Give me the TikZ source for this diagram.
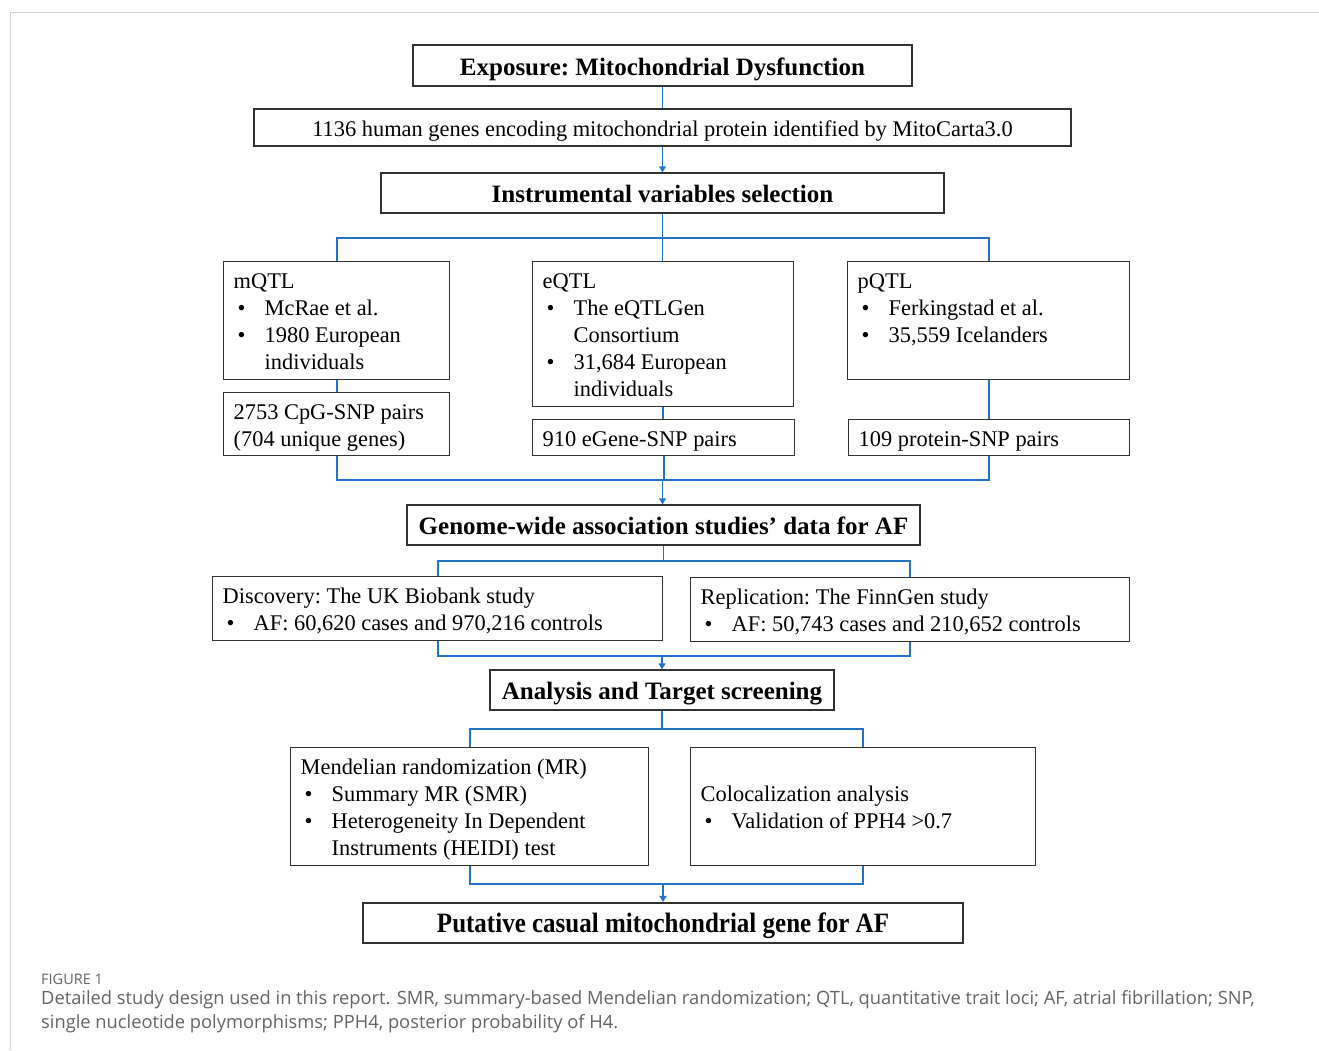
\documentclass[tikz,border=0pt]{standalone}
\usepackage{fontspec}
\setmainfont{Liberation Serif}
\newfontfamily\capfont{Open Sans}
\usetikzlibrary{arrows.meta,calc}
\definecolor{flowblue}{RGB}{36,114,200}
\definecolor{boxgray}{RGB}{50,50,50}
\definecolor{capgray}{RGB}{100,100,100}
\newcommand\bul[1]{\makebox[31pt][l]{\hspace{4pt}\textbullet}#1}
\newcommand\cont[1]{\makebox[31pt][l]{}#1}
\newcommand\topst{\rule{0pt}{1.0em}}
\newcommand\botst{\rule[-0.216em]{0pt}{0pt}}
\newcommand\fixsp{\frenchspacing\spaceskip=0.25em\relax\xspaceskip=0.25em\relax}
\begin{document}
\begin{tikzpicture}[x=1pt,y=-1pt,
  box/.style={draw=boxgray,line width=1.4pt,inner sep=0pt,
     execute at begin node=\fixsp\topst, execute at end node=\botst},
  titlebox/.style={box,font=\fontsize{25}{30}\selectfont\bfseries},
  plainbox/.style={box,font=\fontsize{22.4}{27}\selectfont},
  listbox/.style={box,anchor=north west,font=\fontsize{22.4}{27}\selectfont,
     align=left,inner xsep=10pt,inner ysep=0pt},
  bl/.style={draw=flowblue,line width=1.8pt},
  bla/.style={bl,-{Triangle[length=6pt,width=7pt]}}]
\useasboundingbox (0,0) rectangle (1319,1050);
\draw[gray!35,line width=1pt] (10,1050) -- (10,12) -- (1319,12);

% top chain
\node[titlebox,minimum width=499pt,minimum height=41pt] (b1) at (662.5,65.5)
  {Exposure: Mitochondrial Dysfunction};
\node[plainbox,minimum width=817pt,minimum height=37pt] (b2) at (662.5,127.5)
  {1136 human genes encoding mitochondrial protein identified by MitoCarta3.0};
\node[titlebox,minimum width=563pt,minimum height=40pt] (b3) at (662.5,193)
  {Instrumental variables selection};

% QTL boxes
\node[listbox,minimum width=226pt,minimum height=118pt,text width=206pt] (mq) at (223,261)
  {mQTL\\\bul{McRae et al.}\\\bul{1980 European}\\\cont{individuals}};
\node[listbox,minimum width=226pt,minimum height=63pt,text width=206pt] (cpg) at (223,392)
  {2753 CpG-SNP pairs\\(704 unique genes)};
\node[listbox,minimum width=261pt,minimum height=145pt,text width=241pt] (eq) at (532,261)
  {eQTL\\\bul{The eQTLGen}\\\cont{Consortium}\\\bul{31,684 European}\\\cont{individuals}};
\node[listbox,minimum width=262pt,minimum height=36pt,text width=242pt] (eg) at (532,419)
  {910 eGene-SNP pairs};
\node[listbox,minimum width=282pt,minimum height=118pt,text width=262pt] (pq) at (847,261)
  {pQTL\\\bul{Ferkingstad et al.}\\\bul{35,559 Icelanders}\\\rule{0pt}{1em}};
\node[listbox,minimum width=281pt,minimum height=36pt,text width=261pt] (pr) at (848,419)
  {109 protein-SNP pairs};

% GWAS
\node[titlebox,minimum width=513pt,minimum height=40pt] (gw) at (663.5,525)
  {Genome-wide association studies’ data for AF};
\node[listbox,minimum width=450pt,minimum height=64pt,text width=430pt] (dis) at (212,576)
  {Discovery: The UK Biobank study\\\bul{AF: 60,620 cases and 970,216 controls}};
\node[listbox,minimum width=439pt,minimum height=64pt,text width=419pt] (rep) at (690,577)
  {Replication: The FinnGen study\\\bul{AF: 50,743 cases and 210,652 controls}};

% analysis
\node[titlebox,minimum width=344pt,minimum height=40pt] (an) at (662,690)
  {Analysis and Target screening};
\node[listbox,minimum width=358pt,minimum height=118pt,text width=338pt] (mr) at (290,747)
  {Mendelian randomization (MR)\\\bul{Summary MR (SMR)}\\\bul{Heterogeneity In Dependent}\\\cont{Instruments (HEIDI) test}};
\node[listbox,minimum width=345pt,minimum height=118pt,text width=325pt] (co) at (690,747)
  {Colocalization analysis\\\bul{Validation of PPH4 >0.7}};

\node[titlebox,line width=2.2pt,minimum width=600pt,minimum height=40pt] (fin) at (663,923)
  {\scalebox{1}[1.12]{Putative casual mitochondrial gene for AF}};

% connectors
\coordinate (j1) at (662.5,238);
\coordinate (j2) at (662.5,480);
\coordinate (j3) at (663.5,561);
\coordinate (j4) at (662,656);
\coordinate (j5) at (662,729);
\coordinate (j6) at (663,884);

\draw[bl] (b1.south) -- (b1.south |- b2.north);
\draw[bla] (b2.south) -- (b2.south |- b3.north);
\draw[bl] (b3.south) -- (j1);
\draw[bl] (mq.north) |- (j1) -| (pq.north);
\draw[bl] (j1) -- (j1 |- eq.north);
\draw[bl] (mq.south) -- (cpg.north);
\draw[bl] (eq.south) -- (eq.south |- eg.north);
\draw[bl] (pq.south) -- (pq.south |- pr.north);
\draw[bl] (cpg.south) |- (j2) -| (pr.south);
\draw[bl] (eg.south) -- (eg.south |- j2);
\draw[bla] (j2) -- (j2 |- gw.north);
\draw[bl] (gw.south) -- (j3);
\draw[bl] (dis.north) |- (j3) -| (rep.north);
\draw[bl] (dis.south) |- (j4) -| (rep.south);
\draw[bla] (j4) -- (j4 |- an.north);
\draw[bl] (an.south) -- (j5);
\draw[bl] (mr.north) |- (j5) -| (co.north);
\draw[bl] (mr.south) |- (j6) -| (co.south);
\draw[bla] (j6) -- (j6 |- fin.north);

% caption
\node[anchor=base west,inner sep=0pt,text=capgray,font=\capfont\fontsize{14.5}{17}\selectfont] (figlab) at (41,984) {FIGURE 1};
\node[anchor=base west,inner sep=0pt,text=capgray,align=left,font=\capfont\fontsize{18.3}{24}\selectfont] (cap) at (41,1028)
  {Detailed study design used in this report. SMR, summary-based Mendelian randomization; QTL, quantitative trait loci; AF, atrial fibrillation; SNP,\\
   single nucleotide polymorphisms; PPH4, posterior probability of H4.};
\end{tikzpicture}
\end{document}
